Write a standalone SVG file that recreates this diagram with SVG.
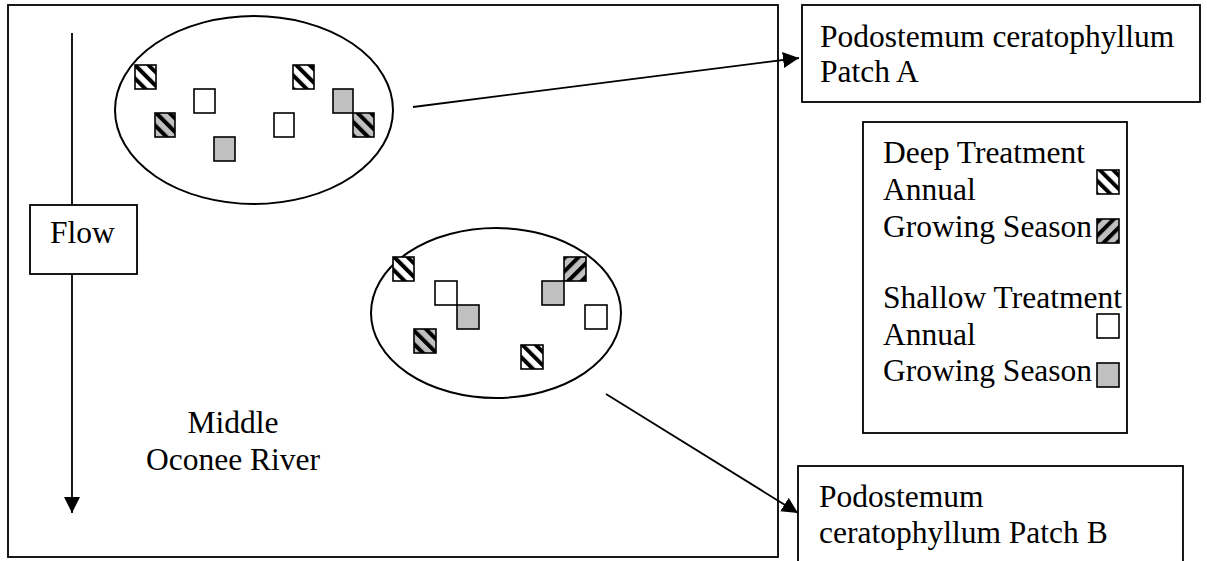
<svg xmlns="http://www.w3.org/2000/svg" width="1207" height="561" viewBox="0 0 1207 561">
  <style>
    .box { fill: #ffffff; stroke: #000000; stroke-width: 1.8; }
    .patch { fill: none; stroke: #000000; stroke-width: 2; }
    .lbl { font-family: "Liberation Serif", "Times New Roman", serif; font-size: 31.5px; fill: #000000; }
    .mid { text-anchor: middle; }
    .conn { stroke: #000000; stroke-width: 1.8; fill: none; }
    .plot { stroke: #000000; stroke-width: 1.6; }
    .white { fill: #ffffff; }
    .gray { fill: #c0c0c0; }
    .hw { fill: url(#hatchWhiteBack); }
    .hg { fill: url(#hatchGrayBack); }
    .hgf { fill: url(#hatchGrayFwd); }
  </style>
  <defs>
    <!-- "\" stripes on white -->
    <pattern id="hatchWhiteBack" patternUnits="userSpaceOnUse" width="9.5" height="9.5" patternTransform="rotate(-45)">
      <rect width="9.5" height="9.5" fill="#ffffff"/>
      <rect width="4" height="9.5" fill="#000000"/>
    </pattern>
    <!-- "\" stripes on grey -->
    <pattern id="hatchGrayBack" patternUnits="userSpaceOnUse" width="9.5" height="9.5" patternTransform="rotate(-45)">
      <rect width="9.5" height="9.5" fill="#c0c0c0"/>
      <rect width="4" height="9.5" fill="#000000"/>
    </pattern>
    <!-- "/" stripes on grey -->
    <pattern id="hatchGrayFwd" patternUnits="userSpaceOnUse" width="9.5" height="9.5" patternTransform="rotate(45)">
      <rect width="9.5" height="9.5" fill="#c0c0c0"/>
      <rect width="4" height="9.5" fill="#000000"/>
    </pattern>
    <marker id="head" markerUnits="userSpaceOnUse" viewBox="0 0 16 16" refX="16" refY="8" markerWidth="16" markerHeight="16" orient="auto">
      <path d="M0,0 L16,8 L0,16 Z" fill="#000000"/>
    </marker>
  </defs>

  <rect width="1207" height="561" fill="#ffffff"/>

  <!-- river reach -->
  <g id="river">
    <rect class="box" x="8" y="5" width="770" height="552"/>
    <text class="lbl mid" x="233" y="433">Middle</text>
    <text class="lbl mid" x="233" y="470">Oconee River</text>
  </g>

  <!-- patch A with its plots -->
  <g id="patch-a">
    <ellipse class="patch" cx="254" cy="110" rx="139" ry="94"/>
    <rect class="plot hw" x="135" y="65" width="21" height="24"/>
    <rect class="plot white" x="194" y="89" width="21" height="24"/>
    <rect class="plot hg" x="155" y="113" width="20" height="24"/>
    <rect class="plot gray" x="214" y="137" width="21" height="24"/>
    <rect class="plot hw" x="293" y="65" width="21" height="24"/>
    <rect class="plot gray" x="333" y="89" width="20" height="24"/>
    <rect class="plot white" x="274" y="113" width="20" height="24"/>
    <rect class="plot hg" x="353" y="113" width="21" height="24"/>
  </g>

  <!-- patch B with its plots -->
  <g id="patch-b">
    <ellipse class="patch" cx="496" cy="313" rx="125" ry="85"/>
    <rect class="plot hw" x="393" y="257" width="21" height="24"/>
    <rect class="plot white" x="435" y="281" width="22" height="24"/>
    <rect class="plot gray" x="457" y="305" width="22" height="24"/>
    <rect class="plot hg" x="414" y="329" width="22" height="24"/>
    <rect class="plot hw" x="521" y="345" width="22" height="24"/>
    <rect class="plot hgf" x="564" y="257" width="22" height="24"/>
    <rect class="plot gray" x="542" y="281" width="22" height="24"/>
    <rect class="plot white" x="585" y="305" width="22" height="24"/>
  </g>

  <!-- connectors -->
  <g id="connectors">
    <line class="conn" x1="72" y1="33" x2="72" y2="513" marker-end="url(#head)"/>
    <line class="conn" x1="413" y1="107" x2="799" y2="58" marker-end="url(#head)"/>
    <line class="conn" x1="606" y1="394" x2="798" y2="513" marker-end="url(#head)"/>
  </g>

  <!-- flow label -->
  <g id="flow">
    <rect class="box" x="30" y="205" width="107" height="69"/>
    <text class="lbl" x="50" y="243">Flow</text>
  </g>

  <!-- callout for patch A -->
  <g id="label-a">
    <rect class="box" x="802" y="5" width="398" height="97"/>
    <text class="lbl" x="820" y="47">Podostemum ceratophyllum</text>
    <text class="lbl" x="820" y="82">Patch A</text>
  </g>

  <!-- legend -->
  <g id="legend">
    <rect class="box" x="863" y="122" width="264" height="311"/>
    <text class="lbl" x="883" y="163">Deep Treatment</text>
    <text class="lbl" x="883" y="200">Annual</text>
    <text class="lbl" x="883" y="237">Growing Season</text>
    <text class="lbl" x="883" y="308">Shallow Treatment</text>
    <text class="lbl" x="883" y="345">Annual</text>
    <text class="lbl" x="883" y="381">Growing Season</text>
    <rect class="plot hw" x="1097" y="170" width="22" height="24"/>
    <rect class="plot hgf" x="1097" y="219" width="22" height="24"/>
    <rect class="plot white" x="1097" y="314" width="22" height="24"/>
    <rect class="plot gray" x="1097" y="363" width="22" height="24"/>
  </g>

  <!-- callout for patch B -->
  <g id="label-b">
    <rect class="box" x="798" y="466" width="385" height="130"/>
    <text class="lbl" x="819" y="507">Podostemum</text>
    <text class="lbl" x="819" y="543">ceratophyllum Patch B</text>
  </g>
</svg>
